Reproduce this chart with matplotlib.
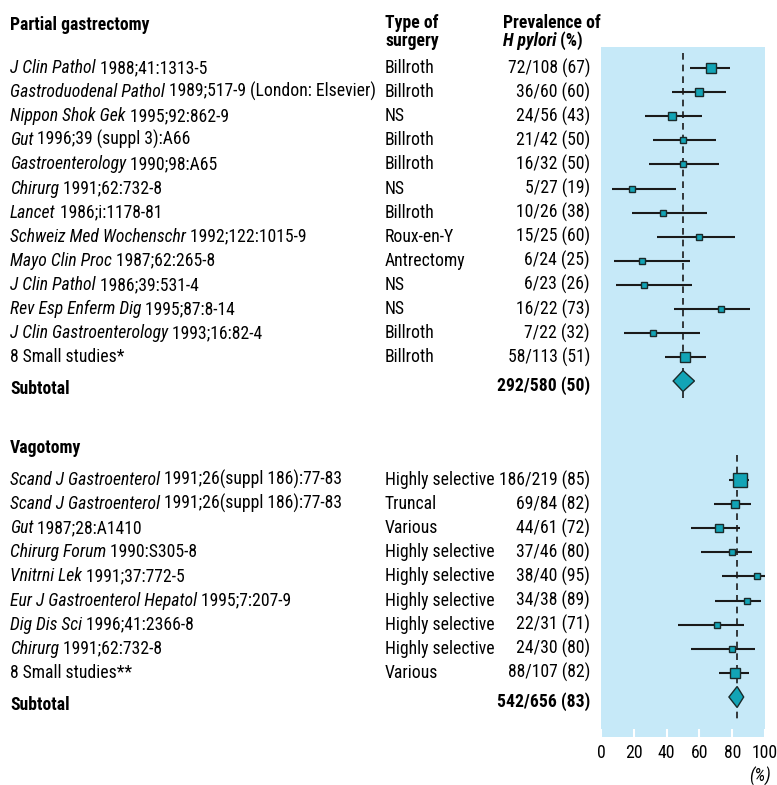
import matplotlib
matplotlib.use("Agg")
import matplotlib.pyplot as plt
import numpy as np
from matplotlib import font_manager

# ---- pick a narrow sans font if one is installed ----
def _is_narrow(f):
    st = f.stretch
    if isinstance(st, str):
        return st in ("condensed", "semi-condensed", "extra-condensed", "ultra-condensed")
    return st < 500

ttf = font_manager.fontManager.ttflist
narrow = [f for f in ttf if "Narrow" in f.name or "Condensed" in f.name or _is_narrow(f)]
pref = ["Liberation Sans Narrow", "Roboto Condensed", "Open Sans Condensed", "Noto Sans",
        "Open Sans", "DejaVu Sans", "Roboto"]
FONT, NARROW = "Liberation Sans", False
for p in pref:
    if any(f.name == p for f in narrow):
        FONT, NARROW = p, True
        break
if not NARROW and narrow:
    FONT, NARROW = narrow[0].name, True
plt.rcParams['font.family'] = [FONT, 'DejaVu Sans']
if NARROW:
    plt.rcParams['font.stretch'] = 'condensed'
FS = 12.7 if NARROW else 11

# ---------------- data ----------------
pg_journals = ["J Clin Pathol", "Gastroduodenal Pathol", "Nippon Shok Gek", "Gut", "Gastroenterology",
               "Chirurg", "Lancet", "Schweiz Med Wochenschr", "Mayo Clin Proc", "J Clin Pathol",
               "Rev Esp Enferm Dig", "J Clin Gastroenterology", ""]
pg_refs = [" 1988;41:1313-5", " 1989;517-9 (London: Elsevier)", " 1995;92:862-9", " 1996;39 (suppl 3):A66",
           " 1990;98:A65", " 1991;62:732-8", " 1986;i:1178-81", " 1992;122:1015-9", " 1987;62:265-8",
           " 1986;39:531-4", " 1995;87:8-14", " 1993;16:82-4", "8 Small studies*"]
pg_types = ["Billroth", "Billroth", "NS", "Billroth", "Billroth", "NS", "Billroth", "Roux-en-Y",
            "Antrectomy", "NS", "NS", "Billroth", "Billroth"]
pg_pos = [72, 36, 24, 21, 16, 5, 10, 15, 6, 6, 16, 7, 58]
pg_n = [108, 60, 56, 42, 32, 27, 26, 25, 24, 23, 22, 22, 113]
pg_pct = [67, 60, 43, 50, 50, 19, 38, 60, 25, 26, 73, 32, 51]
pg_lo = [54, 43.5, 27, 32, 29.5, 7, 19, 34, 8, 9, 44.5, 14, 39]
pg_hi = [78.5, 76.5, 61.5, 70, 72, 45.5, 64.5, 82, 54, 55.5, 91, 60.5, 64]
pg_sub = (292, 580, 50, 44, 57)

vg_journals = ["Scand J Gastroenterol", "Scand J Gastroenterol", "Gut", "Chirurg Forum", "Vnitrni Lek",
               "Eur J Gastroenterol Hepatol", "Dig Dis Sci", "Chirurg", ""]
vg_refs = [" 1991;26(suppl 186):77-83", " 1991;26(suppl 186):77-83", " 1987;28:A1410", " 1990:S305-8",
           " 1991;37:772-5", " 1995;7:207-9", " 1996;41:2366-8", " 1991;62:732-8", "8 Small studies**"]
vg_types = ["Highly selective", "Truncal", "Various", "Highly selective", "Highly selective",
            "Highly selective", "Highly selective", "Highly selective", "Various"]
vg_pos = [186, 69, 44, 37, 38, 34, 22, 24, 88]
vg_n = [219, 84, 61, 46, 40, 38, 31, 30, 107]
vg_pct = [85, 82, 72, 80, 95, 89, 71, 80, 82]
vg_lo = [78, 69, 55, 61, 74, 69.5, 47, 55, 72]
vg_hi = [90.5, 91.5, 84.5, 92, 100, 97.5, 87, 94, 90.5]
vg_sub = (542, 656, 83, 78, 87)

xticks = [0, 20, 40, 60, 80, 100]

# ---------------- layout ----------------
W, H = 777, 785
fig = plt.figure(figsize=(W / 100, H / 100), dpi=100)
bg = fig.add_axes([0, 0, 1, 1])
bg.set_xlim(0, W)
bg.set_ylim(H, 0)
bg.axis("off")

PX0, PX1, PY0, PY1 = 601, 765, 47, 737
ax = fig.add_axes([PX0 / W, 1 - PY1 / H, (PX1 - PX0) / W, (PY1 - PY0) / H])
ax.set_xlim(0, 100)
ax.set_ylim(PY1, PY0)
ax.set_facecolor("#c6e9f8")
for s in ax.spines.values():
    s.set_visible(False)
ax.set_yticks([])
ax.set_xticks(xticks)
ax.set_xticklabels([str(t) for t in xticks], fontsize=FS)
ax.tick_params(axis="x", direction="in", length=6, width=1.5, color="white", pad=5)
ax.set_zorder(2)

TEAL = "#12a4b6"
X_NAME, X_TYPE, X_VAL = 10, 385, 590


def study_label(y, journal, ref):
    if journal:
        t = bg.text(X_NAME, y, journal, fontsize=FS, style="italic", va="center", ha="left")
        bg.annotate(ref, xy=(1, 0), xycoords=t, va="bottom", ha="left", fontsize=FS)
    else:
        bg.text(X_NAME, y, ref, fontsize=FS, va="center", ha="left")


def section(y0, journals, refs, types, pos, ns, pct, lo, hi, sub, ysub, dash_top, dash_bot):
    ys = [y0 + 24.1 * i for i in range(len(pct))]
    for y, j, r, ty, p, n, pc, l, h in zip(ys, journals, refs, types, pos, ns, pct, lo, hi):
        study_label(y, j, r)
        bg.text(X_TYPE, y, ty, fontsize=FS, va="center", ha="left")
        bg.text(X_VAL, y, f"{p}/{n} ({pc})", fontsize=FS, va="center", ha="right")
        ax.plot([l, h], [y, y], color="#1a1a1a", lw=1.5, zorder=3, solid_capstyle="butt")
        side_px = 1.5 + 0.8 * np.sqrt(n)
        ax.plot([pc], [y], marker="s", ms=side_px * 0.72, mfc=TEAL, mec="#1a2a2a", mew=1.0, zorder=4)
    sp, sn, spc, slo, shi = sub
    bg.text(X_NAME, ysub + 8, "Subtotal", fontsize=FS, fontweight="bold", va="center", ha="left")
    bg.text(X_VAL, ysub + 5, f"{sp}/{sn} ({spc})", fontsize=FS, fontweight="bold", va="center", ha="right")
    ax.plot([spc, spc], [dash_top, dash_bot], color="#1a1a1a", lw=1.2, ls=(0, (4, 3)), zorder=2.5)
    ax.fill([slo, spc, shi, spc], [ysub, ysub - 10.5, ysub, ysub + 10.5], facecolor=TEAL,
            edgecolor="#1a2a2a", lw=1.0, zorder=4)


# headers
bg.text(X_NAME, 25, "Partial gastrectomy", fontsize=FS, fontweight="bold", va="center", ha="left")
t1 = bg.text(X_TYPE, 32, "Type of", fontsize=FS, fontweight="bold", va="bottom", ha="left")
bg.annotate("surgery", xy=(0, 0), xycoords=t1, va="top", ha="left", fontsize=FS, fontweight="bold")
t2 = bg.text(503, 32, "Prevalence of", fontsize=FS, fontweight="bold", va="bottom", ha="left")
th = bg.annotate("H pylori", xy=(0, 0), xycoords=t2, va="top", ha="left", fontsize=FS,
                 fontweight="bold", style="italic")
bg.annotate(" (%)", xy=(1, 0), xycoords=th, va="bottom", ha="left", fontsize=FS, fontweight="bold")

section(68, pg_journals, pg_refs, pg_types, pg_pos, pg_n, pg_pct, pg_lo, pg_hi, pg_sub, 381, 53, 400)

bg.text(X_NAME, 448, "Vagotomy", fontsize=FS, fontweight="bold", va="center", ha="left")
section(480, vg_journals, vg_refs, vg_types, vg_pos, vg_n, vg_pct, vg_lo, vg_hi, vg_sub, 697, 455, 723)

bg.text(771, 776, "(%)", fontsize=FS, style="italic", va="center", ha="right")

fig.savefig("out.png", dpi=100)
